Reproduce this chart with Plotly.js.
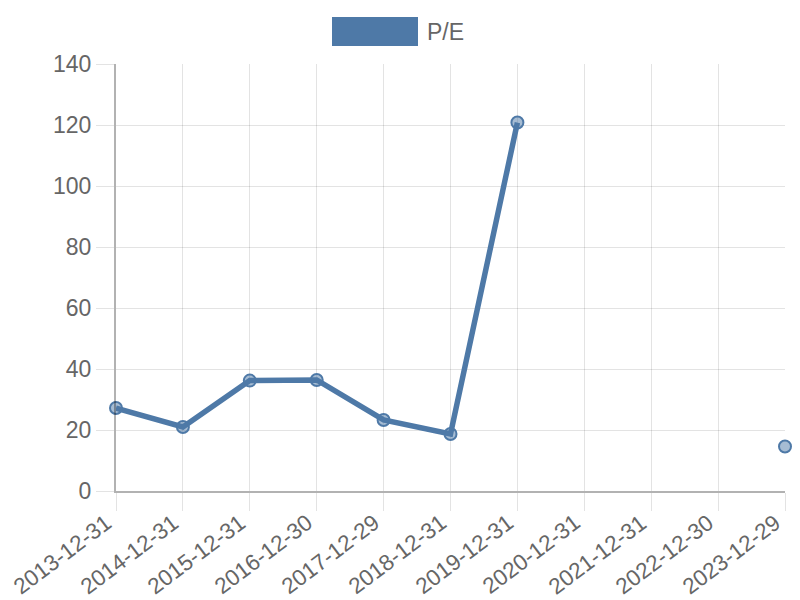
<!DOCTYPE html>
<html>
<head>
<meta charset="utf-8">
<script src="https://cdn.plot.ly/plotly-3.0.1.min.js"></script>
<style>body{margin:0;padding:0;background:#fff;} #chart{width:800px;height:600px;}</style>
</head>
<body>
<div id="chart"></div>
<script>
const dates = ["2013-12-31","2014-12-31","2015-12-31","2016-12-30","2017-12-29","2018-12-31","2019-12-31","2020-12-31","2021-12-31","2022-12-30","2023-12-29"];
const peValues = [27.2, 21.0, 36.2, 36.4, 23.3, 18.7, 120.8, null, null, null, 14.6];
const seriesName = "P/E";
const yTicks = [0, 20, 40, 60, 80, 100, 120, 140];

const blue = "rgb(78,121,167)";
const grid = "rgba(0,0,0,0.11)";
const axisLine = "rgba(0,0,0,0.3)";
const font = "Liberation Sans, Arial, sans-serif";

const trace = {
  x: dates,
  y: peValues,
  type: "scatter",
  mode: "lines+markers",
  name: seriesName,
  connectgaps: false,
  line: {color: blue, width: 5.5},
  marker: {size: 12, color: "rgba(78,121,167,0.5)", line: {color: blue, width: 2}},
  cliponaxis: false,
  showlegend: false,
  hoverinfo: "x+y"
};

// x tick labels drawn as rotated annotations anchored at each category
const xLabelAnnots = dates.map(d => ({
  xref: "x", yref: "paper", x: d, y: -0.038,
  xanchor: "right", yanchor: "top", textangle: -37,
  text: d, showarrow: false, xshift: 3,
  font: {size: 22.5, color: "#666", family: font}
}));

const layout = {
  width: 800, height: 600,
  margin: {l: 116, r: 15, t: 64, b: 109},
  paper_bgcolor: "#fff", plot_bgcolor: "#fff",
  font: {family: font, color: "#666", size: 22},
  showlegend: false,
  xaxis: {
    type: "category",
    range: [0, dates.length - 1],
    showticklabels: false,
    showgrid: true, gridcolor: grid, gridwidth: 1,
    ticks: "outside", ticklen: 18, tickcolor: grid, tickwidth: 1,
    showline: true, linecolor: axisLine, linewidth: 2,
    zeroline: false, fixedrange: true
  },
  yaxis: {
    range: [0, 140],
    tickvals: yTicks,
    showgrid: true, gridcolor: grid, gridwidth: 1,
    ticks: "outside", ticklen: 18, tickcolor: grid, tickwidth: 1,
    showline: true, linecolor: axisLine, linewidth: 2,
    tickfont: {size: 23, color: "#666", family: font},
    zeroline: false, fixedrange: true
  },
  shapes: [
    {type: "rect", xref: "paper", yref: "paper", layer: "above",
     x0: (332-116)/669, x1: (418-116)/669, y0: (600-109-46)/427, y1: (600-109-17)/427,
     fillcolor: blue, line: {width: 0}}
  ],
  annotations: [
    {xref: "paper", yref: "paper", x: (425-116)/669, y: (600-109-31.5)/427,
     xanchor: "left", yanchor: "middle", text: seriesName, showarrow: false,
     font: {size: 23, color: "#666", family: font}}
  ].concat(xLabelAnnots)
};

Plotly.newPlot("chart", [trace], layout, {displayModeBar: false, staticPlot: true});
</script>
</body>
</html>
